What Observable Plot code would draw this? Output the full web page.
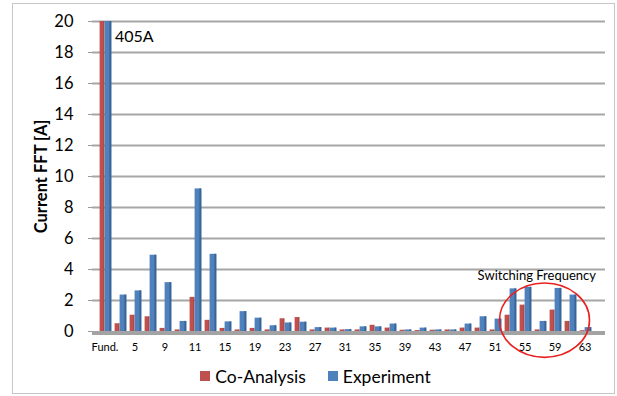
<!DOCTYPE html>
<html><head><meta charset="utf-8">
<script src="https://cdn.jsdelivr.net/npm/d3@7"></script>
<script src="https://cdn.jsdelivr.net/npm/@observablehq/plot@0.6"></script>
<style>
body{margin:0;background:#fff;font-family:Lato,"Open Sans",sans-serif;}
#frame{position:absolute;left:12px;top:3px;width:603px;height:391px;border:1px solid #c6c6c6;box-sizing:border-box;}
#chart{position:absolute;left:0;top:0;}
#legend{position:absolute;left:0;top:362px;width:617px;height:28px;display:flex;justify-content:center;align-items:center;font-size:17.5px;color:#000;padding-left:14px;box-sizing:border-box;}
.item{display:flex;align-items:center;}
.sw{display:inline-block;width:10px;height:10px;margin-right:5px;}
g[aria-label="y-axis label"] text{font-weight:bold;font-size:16.5px;}
</style></head>
<body>
<div id="frame"></div>
<div id="chart"></div>
<div id="legend">
  <span class="item"><span class="sw" style="background:#c0504d"></span>Co-Analysis</span>
  <span class="item" style="margin-left:22px"><span class="sw" style="background:#4f81bd"></span>Experiment</span>
</div>
<script>
const categories = ["Fund.","3","5","7","9","10","11","13","15","17","19","21","23","25","27","29","31","33","35","37","39","41","43","45","47","49","51","53","55","57","59","61","63"];
const coAnalysis = [405,0.5,1.05,0.95,0.2,0.1,2.2,0.72,0.2,0.1,0.2,0.1,0.82,0.9,0.1,0.22,0.1,0.1,0.4,0.22,0.08,0.06,0.08,0.1,0.22,0.22,0.1,1.05,1.7,0.1,1.38,0.65,0.05];
const experiment = [405,2.35,2.62,4.92,3.15,0.65,9.2,4.98,0.62,1.28,0.86,0.37,0.55,0.6,0.25,0.22,0.12,0.3,0.3,0.48,0.1,0.22,0.1,0.1,0.48,0.95,0.8,2.75,2.85,0.65,2.78,2.35,0.25];
const xTickLabels = ["Fund.","5","9","11","15","19","23","27","31","35","39","43","47","51","55","59","63"];
const yTicks = [0,2,4,6,8,10,12,14,16,18,20];
const annotations = [
  {label:"405A", x:"Fund.", y:19},
  {label:"Switching Frequency", x:"63", y:3.6}
];
const highlight = {x:"57", y:0.7, halfWidthBands:3, halfHeight:2.4};

const RED = "#c0504d", BLUE = "#4f81bd", BLUE_DARK = "#3a6494", RED_DARK = "#9b3f3c";
const rows = categories.map((c,i)=>({c, co: coAnalysis[i], ex: experiment[i]}));

const chart = Plot.plot({
  width: 617, height: 360,
  marginLeft: 92, marginRight: 12, marginTop: 21, marginBottom: 29,
  style: {fontFamily: "Lato, 'Open Sans', sans-serif", fontSize: "16.5px", color: "#000", background: "transparent", overflow: "visible"},
  x: {domain: categories, range: [92.5, 597], padding: 0},
  y: {domain: [0, 20]},
  marks: [
    Plot.ruleY(yTicks.filter(d => d > 0), {stroke: "#a6a6a6", strokeWidth: 2}),
    Plot.ruleY([0], {stroke: "#a3a3a3", strokeWidth: 4, dy: 1.5}),
    Plot.barY(rows, {x: "c", y: "co", fill: RED, insetLeft: 2.6, insetRight: 7.7, clip: true}),
    Plot.barY(rows, {x: "c", y: "co", fill: RED_DARK, insetLeft: 6.6, insetRight: 7.7, clip: true}),
    Plot.barY(rows, {x: "c", y: "ex", fill: BLUE, insetLeft: 7.6, insetRight: 0.7, clip: true}),
    Plot.barY(rows, {x: "c", y: "ex", fill: BLUE_DARK, insetLeft: 12.4, insetRight: 0.7, clip: true}),
    Plot.axisY({ticks: yTicks, tickSize: 4, tickPadding: 15, stroke: "#999", label: "Current FFT [A]", labelAnchor: "center", labelOffset: 57, labelArrow: "none"}),
    Plot.axisX({ticks: xTickLabels, tickSize: 0, tickPadding: 12, fontSize: 11, label: null}),
    Plot.text([annotations[0]], {x: "x", y: "y", text: "label", textAnchor: "start", dx: 10, fontSize: 16}),
    Plot.text([annotations[1]], {x: "x", y: "y", text: "label", textAnchor: "end", dx: 11, fontSize: 13}),
    (index, scales) => {
      const x = scales.x, y = scales.y;
      const bw = x(categories[1]) - x(categories[0]);
      const cx = x(highlight.x) + bw / 2 + 5;
      const cy = y(highlight.y);
      const ry = y(0) - y(highlight.halfHeight);
      const el = document.createElementNS("http://www.w3.org/2000/svg", "ellipse");
      el.setAttribute("cx", cx); el.setAttribute("cy", cy);
      el.setAttribute("rx", bw * highlight.halfWidthBands); el.setAttribute("ry", ry);
      el.setAttribute("fill", "none"); el.setAttribute("stroke", "#e8201f"); el.setAttribute("stroke-width", 1.6);
      return el;
    }
  ]
});
document.getElementById("chart").appendChild(chart);
</script>
</body></html>
